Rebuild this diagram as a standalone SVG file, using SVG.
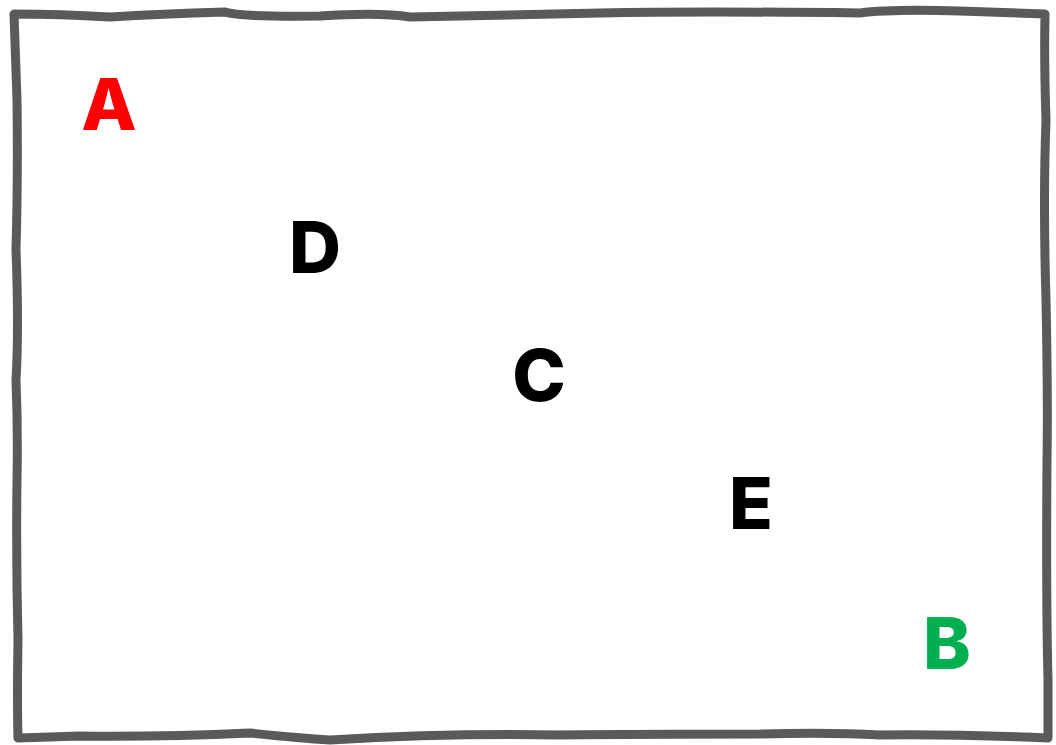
<svg xmlns="http://www.w3.org/2000/svg" width="1056" height="745" viewBox="0 0 1056 745">
<style>
.lbl{font-family:Inter,"Liberation Sans",Arial,sans-serif;font-weight:800;font-size:72px;text-anchor:middle}
.frame{fill:#ffffff;stroke:#5a5a5a;stroke-width:9;stroke-linejoin:round;stroke-linecap:round}
</style>
<g id="frame">
<path class="frame" d="M14,14 Q60,14 110,17 Q160,14 225,12 Q240,17 320,16 Q380,12 410,17 Q520,15 600,13 Q700,11 860,13 Q890,9 960,11 L1045,14 Q1044,60 1046,120 Q1043,200 1046,300 Q1048,400 1047,460 Q1046,600 1048,680 L1048,738 Q950,734 880,735 Q830,732 760,734 Q640,734 560,735 Q450,733 330,740 Q300,738 250,733 Q160,737 80,736 L18,738 Q17,700 18,640 Q16,560 17,480 Q18,430 16,380 Q19,330 16,250 Q18,180 17,100 Z"/>
</g>
<g id="connectors"></g>
<g id="node-A"><text class="lbl" x="109" y="130" fill="#ff0000">A</text></g>
<g id="node-D"><text class="lbl" x="315" y="273" fill="#000000">D</text></g>
<g id="node-C"><text class="lbl" x="539" y="401" fill="#000000">C</text></g>
<g id="node-E"><text class="lbl" x="751" y="529" fill="#000000">E</text></g>
<g id="node-B"><text class="lbl" x="947" y="669" fill="#00b050">B</text></g>
</svg>
